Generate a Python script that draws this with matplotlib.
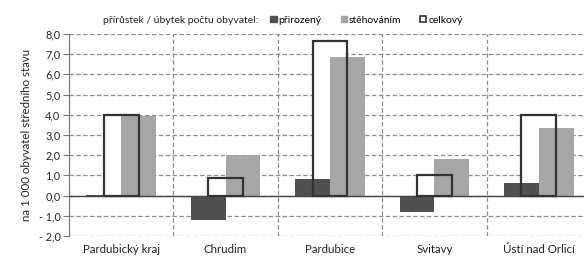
import matplotlib

matplotlib.use("Agg")
import matplotlib.pyplot as plt
import numpy as np
from matplotlib.patches import Patch
from matplotlib.ticker import FuncFormatter, MultipleLocator

plt.rcParams["font.family"] = ["Lato", "DejaVu Sans"]

categories = ["Pardubický kraj", "Chrudim", "Pardubice", "Svitavy", "Ústí nad Orlicí"]
prirozeny = [0.05, -1.21, 0.82, -0.83, 0.61]
stehovanim = [3.95, 2.02, 6.88, 1.80, 3.33]
celkovy = [4.00, 0.86, 7.65, 1.02, 4.00]

DARK = "#505050"
LIGHT = "#a6a6a6"
EDGE = "#333333"
GRID = "#8c8c8c"

fig = plt.figure(figsize=(5.84, 2.57), dpi=100)
ax = fig.add_axes([0.118, 0.0817, 0.894, 0.786])

x = np.arange(len(categories))
w = 1 / 3

# white fill of the total bar sits under the other bars, its outline on top
ax.bar(x, celkovy, width=w, color="white", edgecolor="none", zorder=2)
ax.bar(x - w / 2, prirozeny, width=w, color=DARK, zorder=3)
ax.bar(x + w / 2, stehovanim, width=w, color=LIGHT, zorder=3)
ax.bar(x, celkovy, width=w, facecolor="none", edgecolor=EDGE, linewidth=1.6, zorder=4)

ax.axhline(0, color="#444444", lw=1.0, zorder=3.5)

ax.set_xlim(-0.5, len(categories) - 0.5)
ax.set_ylim(-2, 8)
ax.yaxis.set_major_locator(MultipleLocator(1))


def fmt(v, _):
    s = f"{abs(v):.1f}".replace(".", ",")
    return f"- {s}" if v < -1e-9 else s


ax.yaxis.set_major_formatter(FuncFormatter(fmt))
ax.set_xticks(x)
ax.set_xticklabels(categories)
ax.set_xticks(np.arange(len(categories) + 1) - 0.5, minor=True)

ax.grid(axis="y", which="major", color=GRID, ls=(0, (3.5, 2)), lw=0.9, zorder=0)
ax.grid(axis="x", which="minor", color=GRID, ls=(0, (3.5, 2)), lw=0.9, zorder=0)
ax.tick_params(axis="x", which="both", length=0, labelsize=8.3, pad=6, colors="#222222")
ax.tick_params(axis="y", length=4, color="#777777", labelsize=7.8, colors="#222222", pad=2)

for s in ("top", "right", "bottom"):
    ax.spines[s].set_visible(False)
ax.spines["left"].set_color("#777777")

ax.set_ylabel("na 1 000 obyvatel středního stavu", fontsize=8.3, color="#222222", labelpad=5)

fig.text(0.177, 0.922, "přírůstek / úbytek počtu obyvatel:", fontsize=7.5,
         color="#222222", va="center", ha="left")
handles = [
    Patch(facecolor=DARK, edgecolor=DARK),
    Patch(facecolor=LIGHT, edgecolor=LIGHT),
    Patch(facecolor="white", edgecolor=EDGE, linewidth=1.2),
]
fig.legend(handles, ["přirozený", "stěhováním", "celkový"], loc="center left",
           bbox_to_anchor=(0.463, 0.922), ncol=3, frameon=False, fontsize=7.5,
           handlelength=0.6, handleheight=0.6, handletextpad=0.2,
           columnspacing=1.8, borderaxespad=0, borderpad=0)

fig.savefig("out.png", dpi=100)
